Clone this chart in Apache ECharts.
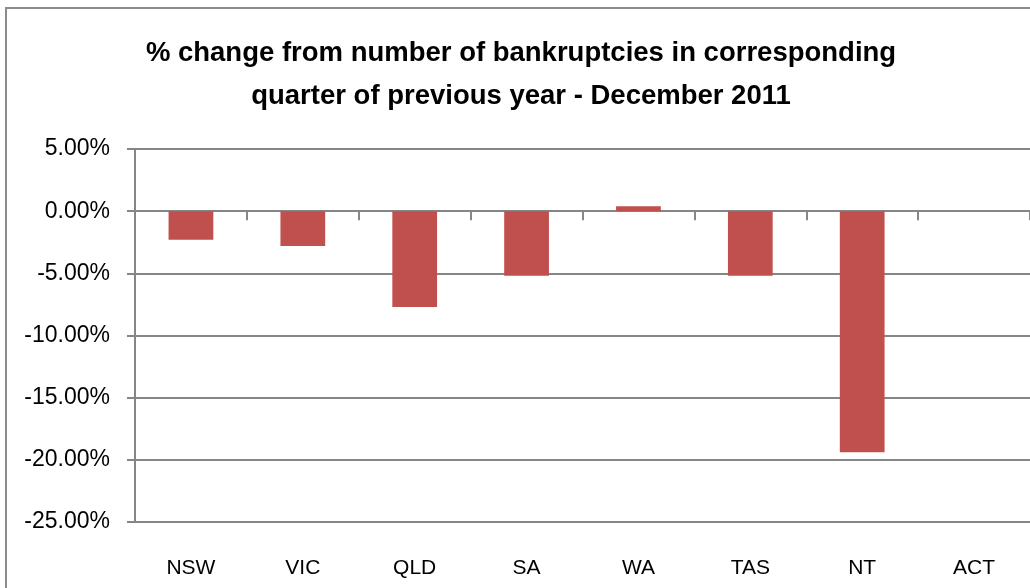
<!DOCTYPE html>
<html>
<head>
<meta charset="utf-8">
<script src="https://cdn.jsdelivr.net/npm/echarts@6/dist/echarts.min.js"></script>
<style>
  html, body { margin: 0; padding: 0; background: #ffffff; }
  #chart { width: 1030px; height: 588px; }
</style>
</head>
<body>
<div id="chart"></div>
<script>
// Bankruptcy change by state/territory, December quarter 2011 vs same quarter 2010
const titleLines = [
  '% change from number of bankruptcies in corresponding',
  'quarter of previous year - December 2011'
];
const states = ['NSW', 'VIC', 'QLD', 'SA', 'WA', 'TAS', 'NT', 'ACT'];
const pctChange = [-2.3, -2.8, -7.7, -5.2, 0.4, -5.2, -19.4, 0];
const yMin = -25;
const yMax = 5;
const yStep = 5;

const axisGrey = '#868686';
const tickFont = { fontFamily: 'Liberation Sans', color: '#000000' };

const chart = echarts.init(document.getElementById('chart'), null, { renderer: 'canvas' });

// one centred text element per title line
const titleGraphics = titleLines.map((line, i) => ({
  type: 'text',
  x: 521,
  y: 53 + i * 43,
  style: {
    text: line,
    fontFamily: 'Liberation Sans',
    fontWeight: 'bold',
    fontSize: 27.5,
    align: 'center',
    verticalAlign: 'middle',
    fill: '#000000'
  }
}));

chart.setOption({
  backgroundColor: '#ffffff',
  animation: false,
  graphic: [
    {
      type: 'rect',
      shape: { x: 6, y: 8, width: 1100, height: 700 },
      style: { fill: 'none', stroke: '#8c8c8c', lineWidth: 2 },
      z: 0
    }
  ].concat(titleGraphics),
  grid: { left: 135, top: 149, bottom: 66, right: -16, containLabel: false },
  xAxis: [
    {
      type: 'category',
      data: states,
      position: 'bottom',
      axisLine: { onZero: false, lineStyle: { color: axisGrey, width: 2 } },
      axisTick: { show: false },
      axisLabel: Object.assign({ margin: 36, fontSize: 21 }, tickFont)
    },
    {
      type: 'category',
      data: states,
      position: 'bottom',
      axisLine: { onZero: true, lineStyle: { color: axisGrey, width: 2 } },
      axisTick: { show: true, inside: false, length: 9, lineStyle: { color: axisGrey, width: 2 } },
      axisLabel: { show: false }
    }
  ],
  yAxis: {
    type: 'value',
    min: yMin,
    max: yMax,
    interval: yStep,
    axisLine: { show: true, lineStyle: { color: axisGrey, width: 2 } },
    axisTick: { show: true, length: 8, lineStyle: { color: axisGrey, width: 2 } },
    splitLine: { show: true, lineStyle: { color: axisGrey, width: 2 } },
    axisLabel: Object.assign({
      margin: 25,
      fontSize: 23,
      formatter: v => v.toFixed(2) + '%'
    }, tickFont)
  },
  series: [
    {
      type: 'bar',
      xAxisIndex: 0,
      data: pctChange,
      barCategoryGap: '60%',
      itemStyle: { color: '#C0504D' },
      z: 3
    }
  ]
});
</script>
</body>
</html>
